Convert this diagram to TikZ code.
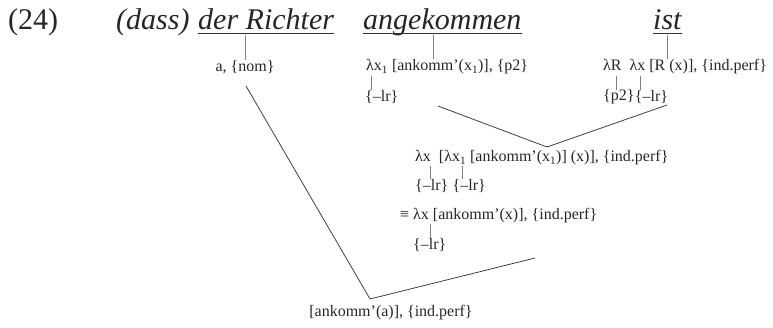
\documentclass[tikz,border=0pt]{standalone}
\usepackage{fontspec}
\setmainfont{Liberation Serif}
\usetikzlibrary{calc}
\begin{document}
\begin{tikzpicture}[x=1pt,y=-1pt,
  big/.style={font=\fontsize{30}{33}\selectfont\itshape, inner sep=0pt, anchor=base west, text=black!85},
  num/.style={font=\fontsize{30}{33}\selectfont, inner sep=0pt, anchor=base west, text=black!85},
  sm/.style={font=\fontsize{16}{18}\selectfont, inner sep=0pt, anchor=west, text=black!85},
  stem/.style={draw=black!50, line width=0.6pt},
  arm/.style={draw=black!75, line width=0.8pt}]
\useasboundingbox (0,0) rectangle (773,327);
% top line
\node[num] (ex) at (8,29) {(24)};
\node[big] (dass) at (116,29) {(dass)};
\node[big] (der) at (198,29) {der Richter};
\node[big] (ang) at (363,29) {angekommen};
\node[big] (ist) at (653,29) {ist};
\foreach \n in {der,ang,ist}
  \draw[line width=0.7pt,black!80] ($(\n.base west)+(0,4)$) -- ($(\n.base east)+(0,4)$);
% second row
\node[sm, anchor=center] (anom) at (245,67) {a, \{nom\}};
\node[sm] (angsem) at (366,67) {λx\textsubscript{1} [ankomm’(x\textsubscript{1})], \{p2\}};
\node[sm] (istsem) at (603,67) {λR\ \ λx [R (x)], \{ind.perf\}};
% stems from words
\coordinate (sder) at (245,35);
\coordinate (sang) at (433,35);
\coordinate (sist) at (667,35);
\draw[stem] (sder) -- (sder |- anom.north);
\draw[stem] (sang) -- (sang |- angsem.north);
\draw[stem] (sist) -- (sist |- istsem.north);
% third row
\node[sm] (lr1) at (365,97) {\{–lr\}};
\node[sm] (p2) at (603,97) {\{p2\}};
\node[sm] (lr2) at (p2.east) {\{–lr\}};
\coordinate (t1) at (371,76);
\coordinate (t2) at (616,76);
\coordinate (t3) at (640,76);
\draw[stem] (t1) -- (t1 |- lr1.north);
\draw[stem] (t2) -- (t2 |- p2.north);
\draw[stem] (t3) -- (t3 |- lr2.north);
% middle V
\coordinate (m1) at (438,106);
\coordinate (mapex) at (547,147);
\coordinate (m2) at (667,105);
\draw[arm] (m1) -- (mapex) -- (m2);
% middle block
\node[sm] (mid) at (415,158) {λx\ \ [λx\textsubscript{1} [ankomm’(x\textsubscript{1})] (x)], \{ind.perf\}};
\node[sm] (lr3) at (415,186) {\{–lr\}};
\node[sm] (lr4) at ($(lr3.east)+(4,0)$) {\{–lr\}};
\coordinate (t4) at (430,166);
\coordinate (t5) at (462,166);
\draw[stem] (t4) -- (t4 |- lr3.north);
\draw[stem] (t5) -- (t5 |- lr4.north);
\node[sm] (eq) at (400,216) {≡ λx [ankomm’(x)], \{ind.perf\}};
\node[sm] (lr5) at (413,245) {\{–lr\}};
\coordinate (t6) at (430,224);
\draw[stem] (t6) -- (t6 |- lr5.north);
% big V
\coordinate (b1) at (246,86);
\coordinate (bapex) at (370,299);
\coordinate (b2) at (535,258);
\draw[arm] (b1) -- (bapex) -- (b2);
\node[sm, anchor=center] (res) at (391,313) {[ankomm’(a)], \{ind.perf\}};
\end{tikzpicture}
\end{document}
